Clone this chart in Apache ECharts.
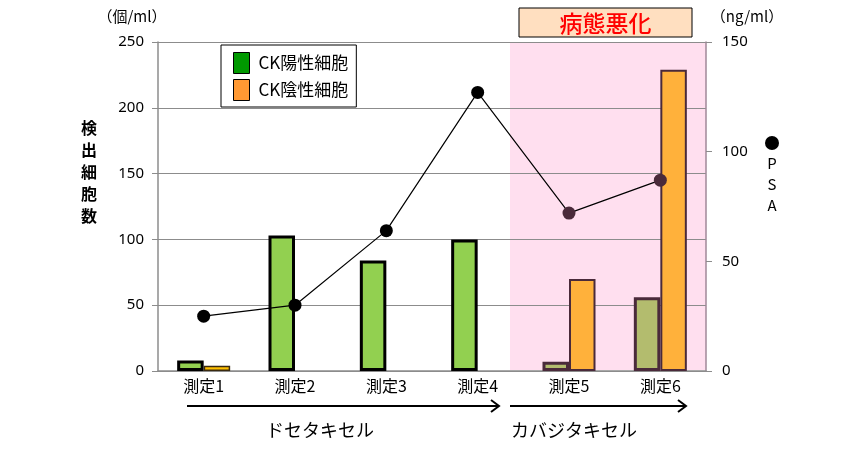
<!DOCTYPE html>
<html>
<head>
<meta charset="utf-8">
<script src="https://cdn.jsdelivr.net/npm/echarts@6/dist/echarts.min.js"></script>
<style>
html,body{margin:0;padding:0;background:#fff;}
#chart{width:858px;height:474px;}
</style>
</head>
<body>
<div id="chart"></div>
<script>
const categories = ['測定1', '測定2', '測定3', '測定4', '測定5', '測定6'];
const ckPositive = [8, 103, 84, 100, 7, 56];
const ckNegative = [4, 0, 0, 0, 70, 229];
const psa = [25, 30, 64, 127, 72, 87];
const leftTicks = { min: 0, max: 250, interval: 50 };
const rightTicks = { min: 0, max: 150, interval: 50 };

const FONT = '"Noto Sans CJK JP", "Noto Sans", sans-serif';
const inBand = i => i >= 4;

const chart = echarts.init(document.getElementById('chart'));
chart.setOption({
  animation: false,
  backgroundColor: '#fff',
  textStyle: { fontFamily: FONT },
  grid: { left: 158, right: 152, top: 42, bottom: 103, containLabel: false },
  legend: {
    orient: 'vertical',
    left: 221, top: 45,
    padding: [7, 8, 6, 12],
    itemGap: 5,
    itemWidth: 16, itemHeight: 21,
    borderColor: '#000', borderWidth: 1, backgroundColor: '#fff',
    icon: 'rect',
    textStyle: { fontSize: 17, color: '#000', fontFamily: FONT, padding: [0, 0, 0, 4], width: 118 },
    data: [
      { name: 'CK陽性細胞', itemStyle: { color: '#009900', borderColor: '#000', borderWidth: 1 } },
      { name: 'CK陰性細胞', itemStyle: { color: '#FF9933', borderColor: '#000', borderWidth: 1 } }
    ]
  },
  xAxis: {
    type: 'category',
    data: categories,
    boundaryGap: true,
    axisLine: { show: true, lineStyle: { color: '#8c8c8c', width: 1.5 } },
    axisTick: { show: false },
    axisLabel: { fontSize: 16, color: '#000', margin: 7, fontFamily: FONT }
  },
  yAxis: [
    {
      type: 'value', min: leftTicks.min, max: leftTicks.max, interval: leftTicks.interval,
      axisLine: { show: true, lineStyle: { color: '#8c8c8c', width: 1.5 } },
      axisTick: { show: true, length: 6, lineStyle: { color: '#8c8c8c' } },
      axisLabel: { fontSize: 15, color: '#000', margin: 14, fontFamily: '"Noto Sans", sans-serif' },
      splitLine: { show: true, lineStyle: { color: '#8c8c8c', width: 1 } }
    },
    {
      type: 'value', min: rightTicks.min, max: rightTicks.max, interval: rightTicks.interval,
      position: 'right',
      axisLine: { show: true, lineStyle: { color: '#a08898', width: 1.5 } },
      axisTick: { show: true, length: 6, lineStyle: { color: '#8c8c8c' } },
      axisLabel: { fontSize: 15, color: '#000', margin: 16, fontFamily: '"Noto Sans", sans-serif' },
      splitLine: { show: false }
    }
  ],
  series: [
    {
      name: 'CK陽性細胞', type: 'bar', barWidth: 26.5, barGap: '0%', z: 3,
      data: ckPositive.map((v, i) => ({
        value: v,
        itemStyle: inBand(i)
          ? { color: '#B3BC6E', borderColor: '#4A2A3A', borderWidth: v ? 3 : 0 }
          : { color: '#92D050', borderColor: '#000', borderWidth: v ? 3 : 0 }
      }))
    },
    {
      name: 'CK陰性細胞', type: 'bar', barWidth: 26.5, barGap: '0%', z: 3,
      data: ckNegative.map((v, i) => ({
        value: v,
        itemStyle: inBand(i)
          ? { color: '#FFB13B', borderColor: '#4A2A3A', borderWidth: v ? 2 : 0 }
          : { color: '#FFC000', borderColor: '#3a2a10', borderWidth: v ? 1.5 : 0 }
      }))
    },
    {
      name: 'PSA', type: 'line', yAxisIndex: 1, z: 5,
      symbol: 'circle', symbolSize: 13,
      lineStyle: { color: '#000', width: 1.2 },
      itemStyle: { color: '#000' },
      data: psa.map((v, i) => ({
        value: v,
        itemStyle: { color: inBand(i) ? '#4A2A3A' : '#000' }
      }))
    }
  ],
  graphic: [
    { type: 'rect', z: -1, shape: { x: 510, y: 42, width: 196, height: 328 }, style: { fill: '#FFDFEF' } },
    { type: 'rect', shape: { x: 519, y: 8, width: 173, height: 29 }, style: { fill: '#FFDFC0', stroke: '#000', lineWidth: 1 } },
    { type: 'text', x: 605.5, y: 23, style: { text: '病態悪化', fill: '#FF0000', font: '500 23px ' + FONT, textAlign: 'center', textVerticalAlign: 'middle' } },
    { type: 'text', x: 132, y: 16, style: { text: '（個/ml）', fill: '#000', font: '15px ' + FONT, textAlign: 'center', textVerticalAlign: 'middle' } },
    { type: 'text', x: 747, y: 16, style: { text: '（ng/ml）', fill: '#000', font: '15px ' + FONT, textAlign: 'center', textVerticalAlign: 'middle' } },
    { type: 'text', x: 89, y: 117, style: { text: '検\n出\n細\n胞\n数', fill: '#000', font: 'bold 16px ' + FONT, lineHeight: 22, textAlign: 'center' } },
    { type: 'circle', shape: { cx: 772, cy: 143, r: 7 }, style: { fill: '#000' } },
    { type: 'text', x: 772, y: 153, style: { text: 'P\nS\nA', fill: '#000', font: '15px ' + FONT, lineHeight: 21, textAlign: 'center' } },
    { type: 'line', shape: { x1: 187, y1: 406, x2: 499, y2: 406 }, style: { stroke: '#000', lineWidth: 2 } },
    { type: 'polyline', shape: { points: [[491, 400], [499, 406], [491, 412]] }, style: { stroke: '#000', lineWidth: 2, fill: null } },
    { type: 'line', shape: { x1: 510, y1: 406, x2: 686, y2: 406 }, style: { stroke: '#000', lineWidth: 2 } },
    { type: 'polyline', shape: { points: [[678, 400], [686, 406], [678, 412]] }, style: { stroke: '#000', lineWidth: 2, fill: null } },
    { type: 'text', x: 320, y: 430, style: { text: 'ドセタキセル', fill: '#000', font: '18px ' + FONT, textAlign: 'center', textVerticalAlign: 'middle' } },
    { type: 'text', x: 574, y: 430, style: { text: 'カバジタキセル', fill: '#000', font: '18px ' + FONT, textAlign: 'center', textVerticalAlign: 'middle' } }
  ]
});
</script>
</body>
</html>
